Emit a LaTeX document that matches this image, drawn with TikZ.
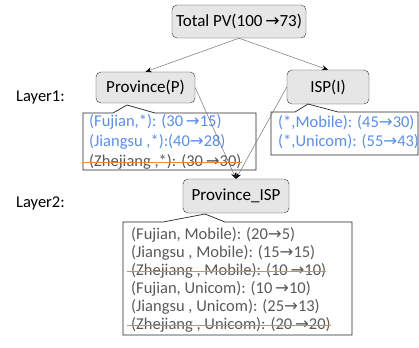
\documentclass[tikz,border=0pt]{standalone}
\usepackage{fontspec}
\setmainfont{Carlito}
\newfontfamily\arrowfont{DejaVu Sans}
\usetikzlibrary{arrows.meta}

\definecolor{pvblue}{RGB}{91,141,233}
\definecolor{pvgray}{RGB}{89,89,89}
\definecolor{pvorange}{RGB}{242,135,50}
\definecolor{boxfill}{RGB}{230,230,230}

\newcommand{\rarr}{{\arrowfont\char"2192}}

\tikzset{
  box/.style={draw=black!80, fill=boxfill, rounded corners=5pt, inner sep=0pt,
    font=\fontsize{17}{20}\selectfont},
  row/.style={anchor=west, inner sep=0pt, font=\fontsize{16.5}{19}\selectfont},
  arr/.style={draw=black!55, line width=0.5pt, -{Stealth[length=6pt,width=5pt,color=black]}},
  callout/.style={draw=black!85, line width=0.7pt},
  strike/.style={draw=pvorange, line width=1.6pt}
}

\begin{document}
\begin{tikzpicture}[x=1pt,y=-1pt]
    \useasboundingbox (0,0) rectangle (419,347);

    % layer labels
    \node[row] (layer1) at (16,98) {Layer1:};
    \node[row] (layer2) at (16,203) {Layer2:};

    % boxes
    \node[box, minimum width=134pt, minimum height=33pt] (total) at (239,21.5) {Total PV(100\,\rarr73)};
    \node[box, minimum width=99pt, minimum height=31pt] (prov) at (145.5,87.5) {Province(P)};
    \node[box, minimum width=82pt, minimum height=34pt] (isp) at (328,87) {ISP(I)};
    \node[box, minimum width=106pt, minimum height=34pt] (pisp) at (236,196) {Province\_ISP};

    % callouts
    \draw[callout] (113,113) -- (127,105) -- (155,113) -- (256,113) -- (256,170) -- (83,170) -- (83,113) -- cycle;
    \draw[callout] (295,112) -- (308,104) -- (338,112) -- (418,112) -- (418,155) -- (271,155) -- (271,112) -- cycle;
    \draw[callout] (163,222) -- (205,214) -- (225,222) -- (352,222) -- (352,335) -- (123,335) -- (123,222) -- cycle;

    % Layer1 rows
    \node[row, pvblue] (p1) at (89,122) {(Fujian,*): (30\,\rarr15)};
    \node[row, pvblue] (p2) at (89,142) {(Jiangsu ,*):(40\rarr28)};
    \node[row, pvgray] (p3) at (89,162) {(Zhejiang ,*): (30\,\rarr30)};
    \node[row, pvblue] (i1) at (278,123) {(*,Mobile): (45\rarr30)};
    \node[row, pvblue] (i2) at (278,142) {(*,Unicom): (55\rarr43)};

    % Layer2 rows
    \node[row, pvgray] (s1) at (131,235) {(Fujian, Mobile): (20\rarr5)};
    \node[row, pvgray] (s2) at (131,253) {(Jiangsu , Mobile): (15\rarr15)};
    \node[row, pvgray] (s3) at (131,271) {(Zhejiang , Mobile): (10\,\rarr10)};
    \node[row, pvgray] (s4) at (131,289) {(Fujian, Unicom): (10\,\rarr10)};
    \node[row, pvgray] (s5) at (131,307) {(Jiangsu , Unicom): (25\rarr13)};
    \node[row, pvgray] (s6) at (131,325) {(Zhejiang , Unicom): (20\,\rarr20)};

    % pruned rows
    \draw[strike] ([xshift=-6pt,yshift=4pt]p3.base west) -- ([yshift=4pt]p3.base east);
    \draw[strike] ([xshift=-4pt,yshift=4pt]s3.base west) -- ([yshift=4pt]s3.base east);
    \draw[strike] ([xshift=-4pt,yshift=4pt]s6.base west) -- ([yshift=4pt]s6.base east);

    % connectors
    \draw[arr] (total.south) -- (prov.north);
    \draw[arr] (total.south) -- (isp.north);
    \draw[arr] (prov.east) -- (pisp.north);
    \draw[arr] (isp.west) -- (pisp.north);
\end{tikzpicture}
\end{document}
